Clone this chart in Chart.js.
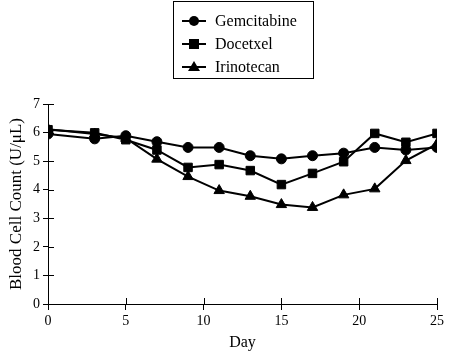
<!DOCTYPE html>
<html><head><meta charset="utf-8">
<script src="https://cdn.jsdelivr.net/npm/chart.js@4.4.1/dist/chart.umd.min.js"></script>
<style>
html,body{margin:0;padding:0;background:#fff;}
#wrap{position:relative;width:460px;height:356px;}
#legend{position:absolute;left:173px;top:1px;width:141px;height:78px;border:1px solid #000;box-sizing:border-box;font-family:"Liberation Serif",serif;font-size:16px;color:#000;}
.item{position:absolute;left:8px;height:20px;line-height:20px;display:flex;align-items:center;}
.item svg{margin-right:9px;}
</style></head>
<body>
<div id="wrap">
<canvas id="c" width="460" height="356"></canvas>
<div id="legend"></div>
</div>
<script>
const days = [0,3,5,7,9,11,13,15,17,19,21,23,25];
const seriesNames = ["Gemcitabine","Docetxel","Irinotecan"];
const gemcitabine = [5.95,5.78,5.89,5.68,5.48,5.48,5.19,5.08,5.19,5.28,5.48,5.39,5.48];
const docetxel = [6.1,5.99,5.75,5.39,4.78,4.88,4.67,4.18,4.57,4.98,5.97,5.66,5.97];
const irinotecan = [6.12,5.95,5.8,5.07,4.46,3.97,3.77,3.48,3.38,3.82,4.03,5.02,5.6];
const xTicks = [0,5,10,15,20,25];
const yTicks = [0,1,2,3,4,5,6,7];

const styles = ['circle','rect','triangle'];
const radii = [5,6,6];
const values = [gemcitabine, docetxel, irinotecan];

const datasets = seriesNames.map((n,i)=>({
  label:n,
  data: days.map((d,j)=>({x:d,y:values[i][j]})),
  borderColor:'#000',backgroundColor:'#000',
  borderWidth:2,pointStyle:styles[i],pointRadius:radii[i],
  pointBorderWidth:1,tension:0,fill:false
}));

// HTML legend
const lg = document.getElementById('legend');
const svgs = [
 '<svg width="24" height="14"><line x1="0" y1="7" x2="24" y2="7" stroke="#000" stroke-width="2"/><circle cx="12" cy="7" r="5" fill="#000"/></svg>',
 '<svg width="24" height="14"><line x1="0" y1="7" x2="24" y2="7" stroke="#000" stroke-width="2"/><rect x="7" y="2" width="10" height="10" fill="#000"/></svg>',
 '<svg width="24" height="14"><line x1="0" y1="7" x2="24" y2="7" stroke="#000" stroke-width="2"/><polygon points="12,1 18,11 6,11" fill="#000"/></svg>'
];
seriesNames.forEach((n,i)=>{
  const d=document.createElement('div');d.className='item';
  d.style.top=(9+i*23)+'px';
  d.innerHTML=svgs[i]+'<span>'+n+'</span>';
  lg.appendChild(d);
});

// inner half of crossing tick marks
const innerTicks = {
  id:'innerTicks',
  beforeDatasetsDraw(chart){
    const ctx=chart.ctx, xs=chart.scales.x, ys=chart.scales.y;
    ctx.save();ctx.strokeStyle='#000';ctx.lineWidth=1;ctx.beginPath();
    xTicks.forEach(v=>{const p=Math.round(xs.getPixelForValue(v))+0.5;ctx.moveTo(p,xs.top);ctx.lineTo(p,xs.top-6);});
    yTicks.forEach(v=>{const p=Math.round(ys.getPixelForValue(v))+0.5;ctx.moveTo(ys.right,p);ctx.lineTo(ys.right+6,p);});
    ctx.stroke();ctx.restore();
  }
};

const font = {family:'"Liberation Serif", serif', size:14};
new Chart(document.getElementById('c'),{
  type:'line',
  data:{datasets},
  plugins:[innerTicks],
  options:{
    responsive:false,animation:false,
    layout:{padding:{top:104,right:23,left:0,bottom:0}},
    plugins:{legend:{display:false},tooltip:{enabled:false}},
    scales:{
      x:{type:'linear',min:0,max:25,
        afterBuildTicks:s=>{s.ticks=xTicks.map(v=>({value:v}));},
        afterFit:s=>{s.height=52;},
        grid:{drawOnChartArea:false,drawTicks:true,tickLength:6,color:'#000',lineWidth:1},
        border:{display:true,color:'#000',width:1},
        ticks:{color:'#000',font,padding:3,maxRotation:0},
        title:{display:true,text:'Day',color:'#000',font:{family:'"Liberation Serif", serif',size:16},padding:{top:4,bottom:4}}
      },
      y:{type:'linear',min:0,max:7,
        afterBuildTicks:s=>{s.ticks=yTicks.map(v=>({value:v}));},
        afterFit:s=>{s.width=48;},
        grid:{drawOnChartArea:false,drawTicks:true,tickLength:5,color:'#000',lineWidth:1},
        border:{display:true,color:'#000',width:1},
        ticks:{color:'#000',font,padding:3},
        title:{display:true,text:'Blood Cell Count (U/\u03bcL)',color:'#000',font:{family:'"Liberation Serif", serif',size:17},padding:{top:6,bottom:2}}
      }
    }
  }
});
</script>
</body></html>
